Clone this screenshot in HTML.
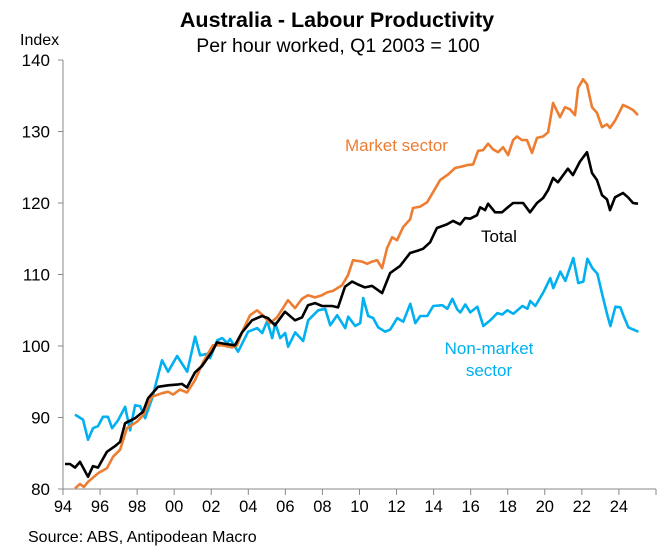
<!DOCTYPE html>
<html><head><meta charset="utf-8"><style>
body{margin:0;background:#fff;}
svg{display:block;font-family:"Liberation Sans",Arial,sans-serif;}
</style></head><body>
<svg id="chart" width="672" height="555" viewBox="0 0 672 555">
<text x="337" y="27" text-anchor="middle" font-size="21.5" font-weight="bold">Australia - Labour Productivity</text>
<text x="338" y="52" text-anchor="middle" font-size="19.5">Per hour worked, Q1 2003 = 100</text>
<text x="20" y="45" font-size="16">Index</text>
<text x="28" y="542" font-size="16">Source: ABS, Antipodean Macro</text>
<g id="axes"></g>
<g id="series"></g>
<text x="345" y="151" font-size="17" fill="#ED7D31">Market sector</text>
<text x="481" y="242" font-size="17" fill="#000">Total</text>
<text x="489" y="354" text-anchor="middle" font-size="17" fill="#00B0F0">Non-market</text>
<text x="489" y="376" text-anchor="middle" font-size="17" fill="#00B0F0">sector</text>
</svg>
<script>
const baseYear = 1994;
const yTicks = [80, 90, 100, 110, 120, 130, 140];
const xTickYears = [1994,1996,1998,2000,2002,2004,2006,2008,2010,2012,2014,2016,2018,2020,2022,2024];
const xTickLabels = ["94","96","98","00","02","04","06","08","10","12","14","16","18","20","22","24"];

const totalT = [0.11,0.38,0.65,0.92,1.35,1.62,1.89,2.37,2.81,3.08,3.35,3.89,4.32,4.59,5.13,5.67,6.15,6.42,6.69,7.12,7.5,8.04,8.31,8.74,9.28,9.66,10.2,10.74,11.06,11.44,11.98,12.52,12.9,13.22,13.6,13.98,14.52,14.84,15.22,15.6,15.92,16.3,16.68,17.22,17.65,18.19,18.73,19.11,19.43,19.81,20.18,20.72,21.05,21.43,21.7,21.97,22.34,22.51,22.78,22.94,23.32,23.69,23.96,24.29,24.83,25.2,25.58,25.91,26.18,26.45,26.71,27.25,27.52,27.9,28.28,28.55,28.82,29.09,29.36,29.52,29.79,30.22,30.49,30.76,31.03];
const totalV = [83.5,83.5,83,83.8,81.7,83.2,83,85.2,86,86.6,89.2,89.9,90.8,92.7,94.3,94.5,94.6,94.7,94.2,96.3,97.2,99.2,100.5,100.3,100.1,101.9,103.6,104.2,103.9,102.9,104.8,103.6,104,105.7,106,105.6,105.6,105.4,108.3,109,108.6,108.2,108.4,107.4,110.2,111.2,113,113.3,113.6,114.5,116.5,117,117.5,117,117.9,117.8,118.3,119.4,119,119.9,118.7,118.7,119.3,120,120,118.7,120,120.7,121.8,123.5,122.9,124.8,123.9,125.8,127.1,124.2,123.2,121.1,120.5,119,120.8,121.4,120.8,120,119.9];

const marketT = [0.65,0.92,1.13,1.35,1.89,2.37,2.7,3.08,3.45,3.99,4.32,4.8,5.34,5.67,5.94,6.31,6.69,7.12,7.55,8.09,8.58,9.12,9.39,9.71,10.09,10.47,10.79,11.17,11.55,12.14,12.52,12.9,13.22,13.6,13.98,14.25,14.57,15.06,15.38,15.65,16.14,16.41,16.68,16.95,17.22,17.49,17.76,18.03,18.35,18.73,18.89,19.27,19.65,19.97,20.35,20.78,21.16,21.54,21.81,22.13,22.4,22.67,22.94,23.21,23.48,23.75,24.02,24.29,24.5,24.77,25.04,25.31,25.58,25.91,26.18,26.45,26.82,27.09,27.36,27.63,27.8,28.07,28.28,28.55,28.82,29.09,29.36,29.52,29.79,30.22,30.49,30.76,31.03];
const marketV = [80.1,80.7,80.3,81,82.2,82.9,84.5,85.5,88.5,89.4,90.3,92.9,93.4,93.6,93.2,93.9,93.5,95.2,97.7,100.1,100.1,99.8,100.1,102.2,104.3,105,104.3,103.2,104,106.4,105.3,106.6,107.1,106.8,107.1,107.5,107.7,108.5,109.9,112,111.8,111.5,111.8,112,110.9,113.7,115.2,114.8,116.6,117.7,119.3,119.5,120.1,121.5,123.2,124,124.9,125.1,125.3,125.4,127.3,127.4,128.3,127.5,127.1,127.8,126.7,128.8,129.3,128.8,128.8,127,129.1,129.3,129.9,134,132,133.4,133.1,132.3,136.1,137.3,136.6,133.4,132.6,130.6,131,130.5,131.5,133.7,133.4,133,132.3];

const nonMarketT = [0.65,1.08,1.35,1.62,1.89,2.16,2.43,2.65,2.97,3.35,3.62,3.89,4.16,4.43,4.8,5.34,5.67,6.16,6.7,7.13,7.4,7.78,7.94,8.32,8.59,8.86,9.02,9.45,9.99,10.48,10.75,11.02,11.29,11.45,11.72,11.99,12.15,12.53,12.96,13.23,13.77,14.15,14.42,14.8,15.23,15.39,15.77,16.04,16.2,16.47,16.74,17.01,17.39,17.66,18.04,18.36,18.74,19.01,19.28,19.66,19.98,20.47,20.74,21.01,21.28,21.44,21.71,21.98,22.36,22.68,23.06,23.44,23.71,23.98,24.3,24.79,25.06,25.22,25.49,25.92,26.3,26.46,26.84,27.11,27.54,27.81,28.08,28.3,28.57,28.84,29.11,29.38,29.54,29.81,30.08,30.24,30.51,31.05];
const nonMarketV = [90.4,89.7,86.9,88.5,88.8,90.1,90.1,88.5,89.6,91.5,88.2,91.7,91.6,89.9,92.6,98,96.4,98.6,96.4,101.3,98.7,98.9,98.3,100.8,101.1,100.4,101,99.2,102,102.5,101.8,103.5,101.1,103.2,101.1,101.8,99.9,101.9,100.7,103.6,105,105.2,102.9,104.3,102.5,104.1,102.8,103.2,106.7,104.2,103.9,102.6,102,102.3,103.9,103.4,105.9,103.2,104.2,104.2,105.6,105.7,105.2,106.6,105.1,104.7,105.8,104.7,105.5,102.8,103.6,104.6,104.4,105,104.5,105.6,105.2,106.3,105.6,107.5,109.5,108.1,110.4,109.1,112.3,108.8,109,112.2,110.9,110.1,107.1,104.3,102.8,105.5,105.4,104.3,102.6,102];

const NS = "http://www.w3.org/2000/svg";
const X0 = 63, PXY = 18.53, Y0 = 489, PXV = 429/60;
function xScale(yr){ return X0 + (yr - 1994) * PXY; }
function yScale(v){ return Y0 - (v - 80) * PXV; }
function mk(tag, attrs, parent){ const e=document.createElementNS(NS,tag); for(const k in attrs) e.setAttribute(k,attrs[k]); parent.appendChild(e); return e; }

const axes = document.getElementById('axes');
const yAxis = mk('line',{x1:X0,y1:yScale(140),x2:X0,y2:Y0,stroke:'#888','stroke-width':1},axes);


const xAxis = mk('line',{x1:X0,y1:Y0,x2:656,y2:Y0,stroke:'#888','stroke-width':1},axes);


yTicks.forEach(v=>{
  const t = mk('line',{x1:X0-5,y1:yScale(v),x2:X0,y2:yScale(v),stroke:'#888'},axes);
  
  
  const l = mk('text',{x:50,y:yScale(v)+6,'text-anchor':'end','font-size':17},axes);
  l.textContent = v;
  
  
});
xTickYears.forEach((yr,i)=>{
  const t = mk('line',{x1:xScale(yr),y1:Y0,x2:xScale(yr),y2:Y0+6,stroke:'#888'},axes);
  
  
  const l = mk('text',{x:xScale(yr),y:Y0+23,'text-anchor':'middle','font-size':16.5},axes);
  l.textContent = xTickLabels[i];
  
  
});
const endTick = mk('line',{x1:656,y1:Y0,x2:656,y2:Y0+6,stroke:'#888'},axes);



const seriesG = document.getElementById('series');
function drawLine(ts, vs, color, name){
  const d = ts.map((t,i)=>(i?'L':'M')+xScale(baseYear+t).toFixed(1)+','+yScale(vs[i]).toFixed(1)).join(' ');
  const p = mk('path',{d:d,fill:'none',stroke:color,'stroke-width':2.6,'stroke-linejoin':'round'},seriesG);
  
  
}
drawLine(nonMarketT, nonMarketV, '#00B0F0', 'non-market-sector-line');
drawLine(marketT, marketV, '#ED7D31', 'market-sector-line');
drawLine(totalT, totalV, '#000000', 'total-line');
</script>
</body></html>
